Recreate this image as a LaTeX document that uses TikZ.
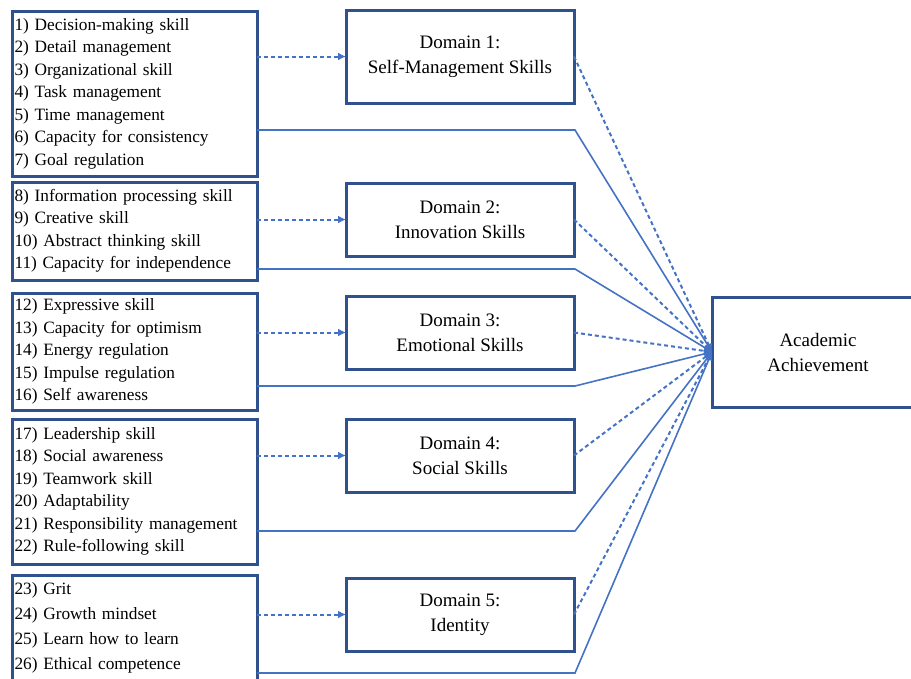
\documentclass[tikz,border=0pt]{standalone}
\usepackage{fontspec}
\setmainfont{Liberation Serif}
\definecolor{BoxBlue}{RGB}{47,82,143}
\definecolor{LineBlue}{RGB}{68,114,196}
\usepackage{tikz}
\usetikzlibrary{positioning,arrows.meta,calc}
\tikzset{>={Latex[length=8pt,width=8pt]}}

\begin{document}
\begin{tikzpicture}[x=1pt,y=-1pt,
        listbox/.style={draw=BoxBlue,line width=3pt,outer sep=0pt,anchor=north west,minimum width=245pt,text width=240pt,inner xsep=2.5pt,inner ysep=0pt,align=left,font=\fontsize{17.3}{22.5}\selectfont},
        domainbox/.style={draw=BoxBlue,line width=3pt,outer sep=0pt,anchor=north west,minimum width=228pt,minimum height=73pt,align=center,font=\fontsize{19}{25}\selectfont},
        link/.style={LineBlue,line width=1.6pt},
        dashlink/.style={LineBlue,line width=2pt,dash pattern=on 4pt off 3pt,->}]
        \clip (0,0) rectangle (911,678);
        % skill lists
        \node[listbox,minimum height=165pt] at (12,11) (L1) {1) Decision-making skill\\2) Detail management\\3) Organizational skill\\4) Task management\\5) Time management\\6) Capacity for consistency\\7) Goal regulation};
        \node[listbox,minimum height=98pt] at (12,182) (L2) {8) Information processing skill\\9) Creative skill\\10) Abstract thinking skill\\11) Capacity for independence};
        \node[listbox,minimum height=117pt] at (12,293) (L3) {12) Expressive skill\\13) Capacity for optimism\\14) Energy regulation\\15) Impulse regulation\\16) Self awareness};
        \node[listbox,minimum height=145pt] at (12,419) (L4) {17) Leadership skill\\18) Social awareness\\19) Teamwork skill\\20) Adaptability\\21) Responsibility management\\22) Rule-following skill};
        \node[listbox,minimum height=105pt,font=\fontsize{17.3}{25}\selectfont] at (12,575) (L5) {23) Grit\\24) Growth mindset\\25) Learn how to learn\\26) Ethical competence};
        % domains
        \node[domainbox,minimum height=93pt] at (346,10) (D1) {Domain 1:\\Self-Management Skills};
        \node[domainbox] at (346,183) (D2) {Domain 2:\\Innovation Skills};
        \node[domainbox] at (346,296) (D3) {Domain 3:\\Emotional Skills};
        \node[domainbox] at (346,419) (D4) {Domain 4:\\Social Skills};
        \node[domainbox] at (346,578) (D5) {Domain 5:\\Identity};
        % outcome
        \node[domainbox,minimum width=212pt,minimum height=110pt] at (712,297) (AA) {Academic\\Achievement};
        % direct paths
        \coordinate (s1) at (575,130);
        \coordinate (s2) at (575,269);
        \coordinate (s3) at (575,386);
        \coordinate (s4) at (575,531);
        \coordinate (s5) at (575,673);
        \foreach \i in {1,...,5} {
            \draw[link,->] (L\i.east |- s\i) -- (s\i) -- (AA.west);
            \draw[dashlink] (D\i.west -| L\i.east) -- (D\i.west);
            \draw[dashlink] (D\i.east) -- (AA.west);
        }
    \end{tikzpicture}
\end{document}
